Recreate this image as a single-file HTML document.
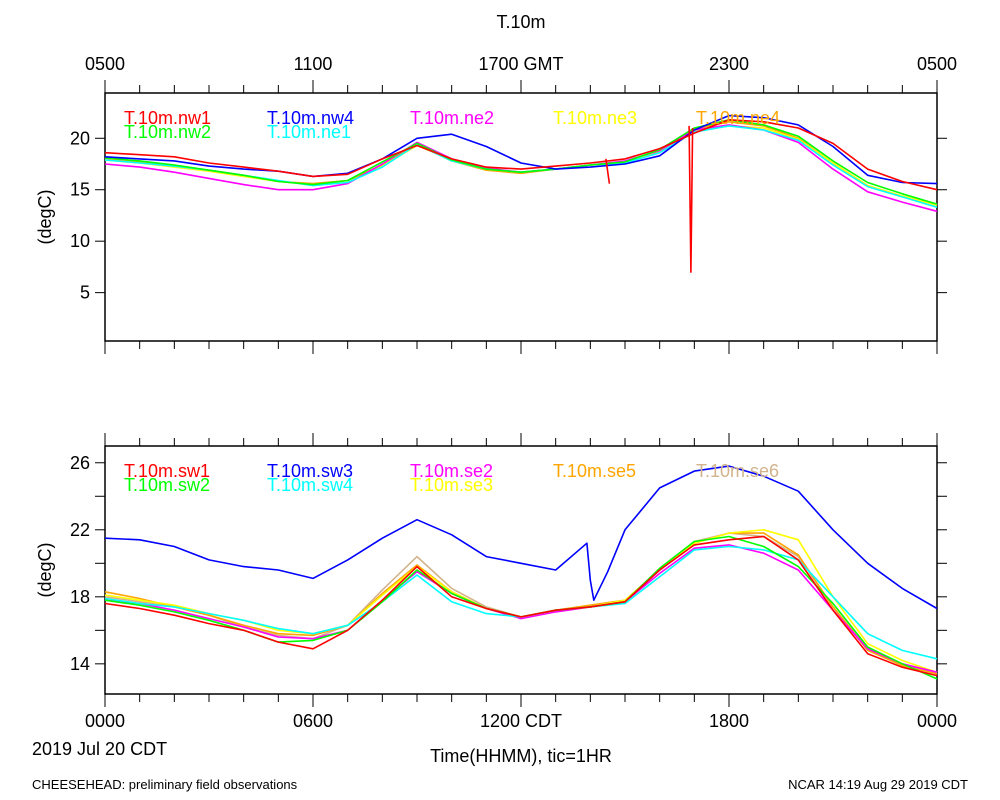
<!DOCTYPE html>
<html><head><meta charset="utf-8"><style>
html,body{margin:0;padding:0;background:#fff;}
svg{display:block;font-family:"Liberation Sans",sans-serif;}
</style></head><body>
<svg id="chart" width="1000" height="800" xmlns="http://www.w3.org/2000/svg">
<text x="521" y="28" font-size="18" text-anchor="middle">T.10m</text>
<g font-size="18" text-anchor="middle">
<text x="105" y="70">0500</text><text x="313" y="70">1100</text><text x="521" y="70">1700 GMT</text><text x="729" y="70">2300</text><text x="937" y="70">0500</text>
</g>
<g font-size="18" text-anchor="middle">
<text x="105" y="727">0000</text><text x="313" y="727">0600</text><text x="521" y="727">1200 CDT</text><text x="729" y="727">1800</text><text x="937" y="727">0000</text>
</g>
<text x="32" y="755" font-size="18">2019 Jul 20 CDT</text>
<text x="521" y="762" font-size="18" text-anchor="middle">Time(HHMM), tic=1HR</text>
<text x="32" y="789" font-size="13">CHEESEHEAD: preliminary field observations</text>
<text x="968" y="789" font-size="13" text-anchor="end">NCAR 14:19 Aug 29 2019 CDT</text>
<text transform="translate(51,217) rotate(-90)" font-size="18" text-anchor="middle">(degC)</text>
<text transform="translate(51,570) rotate(-90)" font-size="18" text-anchor="middle">(degC)</text>
<g id="g"></g>
</svg>
<script>
const hours = [0,1,2,3,4,5,6,7,8,9,10,11,12,13,14,15,16,17,18,19,20,21,22,23,24];
// top panel series
const nw1 = [18.6,18.4,18.2,17.6,17.2,16.8,16.3,16.5,18,19.3,18,17.2,17,17.3,17.6,18,19,20.5,21.8,21.6,21,19.5,17,15.8,15];
const nw2 = [18.1,17.8,17.4,16.9,16.4,15.8,15.5,15.9,17.7,19.5,17.9,17,16.7,17,17.4,17.7,18.9,21,21.8,21.3,20.2,17.8,15.7,14.6,13.6];
const nw4 = [18.2,18,17.8,17.3,17,16.8,16.3,16.6,18,20,20.4,19.2,17.6,17,17.2,17.5,18.3,20.8,22.2,22,21.3,19.2,16.4,15.7,15.6];
const ne1 = [17.9,17.6,17.3,16.9,16.4,15.9,15.4,15.7,17.2,19.4,17.8,17,16.7,17,17.4,17.6,18.6,20.6,21.2,20.8,19.8,17.4,15.3,14.3,13.3];
const ne2 = [17.5,17.2,16.7,16.1,15.5,15,15,15.6,17.5,19.6,18,17.1,16.7,17,17.4,17.8,18.8,20.8,21.3,20.8,19.6,17,14.8,13.8,12.9];
const ne3 = [17.9,17.6,17.2,16.8,16.3,15.8,15.5,15.7,17.3,19.3,17.9,17,16.7,17,17.4,17.6,18.7,20.7,21.2,21,19.9,17.6,15.4,14.4,13.5];
const ne4 = [18,17.7,17.3,16.9,16.4,15.8,15.6,15.9,17.4,19.4,17.8,16.9,16.6,17,17.4,17.6,18.7,20.9,21.6,21.2,20,17.6,15.4,14.3,13.6];
const spikeTimes = [14.45,14.55,16.85,16.9,16.95];
const spikeValues = [18,15.6,21.2,7,21];
// bottom panel series
const sw3Hours = [0,1,2,3,4,5,6,7,8,9,10,11,12,13,13.9,14.0,14.1,14.5,15,16,17,18,19,20,21,22,23,24];
const sw3 = [21.5,21.4,21,20.2,19.8,19.6,19.1,20.2,21.5,22.6,21.7,20.4,20,19.6,21.2,19,17.8,19.5,22,24.5,25.5,25.8,25.2,24.3,22,20,18.5,17.3];
const sw1 = [17.6,17.3,16.9,16.4,16,15.3,14.9,16,17.8,19.8,18,17.3,16.8,17.2,17.4,17.7,19.6,21.1,21.4,21.6,20.2,17.2,14.6,13.8,13.3];
const sw2 = [17.8,17.5,17.1,16.6,16,15.3,15.4,16,17.7,19.6,18.2,17.3,16.8,17.2,17.4,17.7,19.7,21.3,21.6,21,19.8,17.6,15,14,13.1];
const sw4 = [17.9,17.6,17.4,17,16.6,16.1,15.8,16.3,17.7,19.3,17.7,17,16.8,17.2,17.4,17.6,19.2,20.8,21,20.8,20.2,18,15.8,14.8,14.3];
const se2 = [17.8,17.6,17.2,16.7,16.2,15.6,15.5,16,17.8,19.5,18.2,17.3,16.7,17.1,17.4,17.7,19.4,20.9,21.1,20.6,19.6,17.2,14.9,14,13.5];
const se3 = [18.1,17.8,17.5,17,16.6,16,15.8,16.3,18.1,19.8,18.3,17.3,16.8,17.2,17.4,17.8,19.6,21.2,21.8,22,21.4,18,15.2,14.2,13.5];
const se5 = [18.3,17.9,17.4,16.9,16.3,15.8,15.7,16.3,18.2,19.9,18.3,17.3,16.8,17.2,17.5,17.8,19.6,21.2,21.8,21.8,20.5,17.4,14.8,13.9,13.4];
const se6 = [18,17.7,17.4,16.9,16.2,15.7,15.5,16.3,18.4,20.4,18.5,17.4,16.8,17.2,17.4,17.7,19.6,21.3,21.8,21.6,20.4,17.4,14.9,14,13.4];

const X0=105, X1=937;
const topP = {y0:93, y1:341, min:0.3, max:24.4, ticks:[5,10,15,20], minor:[]};
const botP = {y0:446, y1:694, min:12.2, max:27.0, ticks:[14,18,22,26], minor:[16,20,24]};
const xs = h => X0 + (X1-X0)*h/24;
const ys = (p,v) => p.y1 - (p.y1-p.y0)*(v-p.min)/(p.max-p.min);
const NS="http://www.w3.org/2000/svg";
const g=document.getElementById('g');
function mk(tag,attrs,parent){const e=document.createElementNS(NS,tag);for(const k in attrs)e.setAttribute(k,attrs[k]);(parent||g).appendChild(e);return e;}

function drawAxes(p,name){
  const grp=mk('g',{});
  
  
  for(let h=0;h<=24;h++){
    const x=xs(h), len=(h%6===0)?13:8;
    mk('line',{x1:x,y1:p.y0,x2:x,y2:p.y0-len,stroke:'#000','stroke-width':1},grp);
    mk('line',{x1:x,y1:p.y1,x2:x,y2:p.y1+len,stroke:'#000','stroke-width':1},grp);
  }
  p.ticks.forEach(v=>{
    const y=ys(p,v);
    mk('line',{x1:X0,y1:y,x2:X0-10,y2:y,stroke:'#000'},grp);
    mk('line',{x1:X1,y1:y,x2:X1+10,y2:y,stroke:'#000'},grp);
    const t=mk('text',{x:90,y:y+6,'font-size':18,'text-anchor':'end'},grp);
    t.textContent=v;
    
    
  });
  p.minor.forEach(v=>{
    const y=ys(p,v);
    mk('line',{x1:X0,y1:y,x2:X0-10,y2:y,stroke:'#000'},grp);
    mk('line',{x1:X1,y1:y,x2:X1+10,y2:y,stroke:'#000'},grp);
  });
  const r=mk('rect',{x:X0,y:p.y0,width:X1-X0,height:p.y1-p.y0,fill:'none',stroke:'#000','stroke-width':1.5},grp);
  
  
}
function drawLine(p,hs,vals,color,name){
  const pts=hs.map((h,i)=>xs(h).toFixed(1)+','+ys(p,vals[i]).toFixed(1)).join(' ');
  const l=mk('polyline',{points:pts,fill:'none',stroke:color,'stroke-width':1.6,'stroke-linejoin':'round'});
  
  
}
function legend(x,y,label,color){
  const t=mk('text',{x:x,y:y,'font-size':18,fill:color});
  t.textContent=label;
  
  
}
drawAxes(topP,'top-panel');
drawAxes(botP,'bottom-panel');
drawLine(topP,hours,ne4,'#ffa500','line-ne4');
drawLine(topP,hours,ne3,'#ffff00','line-ne3');
drawLine(topP,hours,ne2,'#ff00ff','line-ne2');
drawLine(topP,hours,ne1,'#00ffff','line-ne1');
drawLine(topP,hours,nw2,'#00ff00','line-nw2');
drawLine(topP,hours,nw4,'#0000ff','line-nw4');
drawLine(topP,hours,nw1,'#ff0000','line-nw1');
drawLine(topP,spikeTimes.slice(0,2),spikeValues.slice(0,2),'#ff0000','spike-nw1-a');
drawLine(topP,spikeTimes.slice(2),spikeValues.slice(2),'#ff0000','spike-nw1-b');
drawLine(botP,hours,se6,'#d2b48c','line-se6');
drawLine(botP,hours,se5,'#ffa500','line-se5');
drawLine(botP,hours,se3,'#ffff00','line-se3');
drawLine(botP,hours,se2,'#ff00ff','line-se2');
drawLine(botP,hours,sw4,'#00ffff','line-sw4');
drawLine(botP,hours,sw2,'#00ff00','line-sw2');
drawLine(botP,hours,sw1,'#ff0000','line-sw1');
drawLine(botP,sw3Hours,sw3,'#0000ff','line-sw3');
legend(124,124,'T.10m.nw1','#ff0000');
legend(267,124,'T.10m.nw4','#0000ff');
legend(410,124,'T.10m.ne2','#ff00ff');
legend(553,124,'T.10m.ne3','#ffff00');
legend(696,124,'T.10m.ne4','#ffa500');
legend(124,138,'T.10m.nw2','#00ff00');
legend(267,138,'T.10m.ne1','#00ffff');
legend(124,477,'T.10m.sw1','#ff0000');
legend(267,477,'T.10m.sw3','#0000ff');
legend(410,477,'T.10m.se2','#ff00ff');
legend(553,477,'T.10m.se5','#ffa500');
legend(696,477,'T.10m.se6','#d2b48c');
legend(124,491,'T.10m.sw2','#00ff00');
legend(267,491,'T.10m.sw4','#00ffff');
legend(410,491,'T.10m.se3','#ffff00');
</script>
</body></html>
